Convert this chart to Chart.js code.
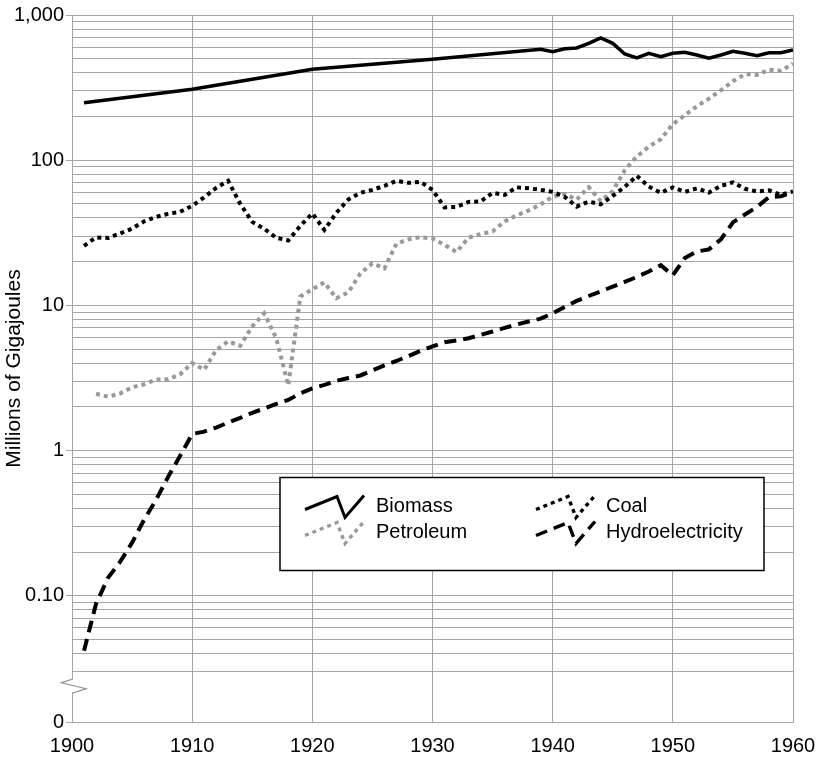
<!DOCTYPE html>
<html lang="en">
<head>
  <meta charset="UTF-8">
  <title>Energy Consumption 1900-1960</title>
  <script src="https://cdn.jsdelivr.net/npm/chart.js"></script>
  <style>
    html, body { margin: 0; padding: 0; background: #fff; }
    #wrap { width: 820px; height: 759px; }
  </style>
</head>
<body>
  <div id="wrap"><canvas id="energyChart" width="820" height="759"></canvas></div>

  <script>
    // annual series, 1901-1960 (millions of gigajoules)
    const years = [
      1901, 1902, 1903, 1904, 1905, 1906, 1907, 1908, 1909, 1910,
      1911, 1912, 1913, 1914, 1915, 1916, 1917, 1918, 1919, 1920,
      1921, 1922, 1923, 1924, 1925, 1926, 1927, 1928, 1929, 1930,
      1931, 1932, 1933, 1934, 1935, 1936, 1937, 1938, 1939, 1940,
      1941, 1942, 1943, 1944, 1945, 1946, 1947, 1948, 1949, 1950,
      1951, 1952, 1953, 1954, 1955, 1956, 1957, 1958, 1959, 1960
    ];
    const coal = [
      25.7, 29.4, 29.1, 31.3, 33.8, 37.9, 40.7, 42.7, 44.1, 48.5,
      55.5, 64.5, 72.0, 50.0, 37.6, 33.7, 29.2, 28.0, 35.3, 43.0,
      33.1, 43.4, 53.7, 59.6, 62.5, 66.5, 72.0, 69.8, 71.0, 62.5,
      47.3, 47.7, 51.6, 51.9, 59.6, 57.7, 65.0, 64.0, 62.5, 60.5,
      55.9, 47.9, 51.9, 49.6, 56.8, 65.5, 78.0, 65.8, 59.6, 65.0,
      60.5, 64.0, 59.9, 66.5, 70.4, 63.5, 60.9, 62.0, 57.7, 60.9
    ];
    const petroleum = [
      null, 2.46, 2.35, 2.47, 2.73, 2.86, 3.08, 3.10, 3.35, 4.01,
      3.6, 4.94, 5.65, 5.26, 7.17, 8.81, 5.93, 2.81, 11.5, 12.9,
      14.4, 11.2, 12.3, 16.6, 19.5, 18.0, 26.6, 28.5, 29.5, 28.9,
      26.1, 23.3, 29.3, 31.0, 32.3, 37.9, 41.6, 45.1, 49.6, 56.1,
      58.4, 53.5, 65.2, 52.2, 61.2, 85.3, 106, 124, 139.5, 177,
      204, 235, 265, 303, 350, 391, 387, 420, 413, 463
    ];
    const hydro = [
      0.0418, 0.088, 0.133, 0.171, 0.232, 0.334, 0.458, 0.659, 0.92, 1.30,
      1.35, 1.44, 1.56, 1.68, 1.82, 1.95, 2.10, 2.23, 2.48, 2.68,
      2.83, 3.02, 3.16, 3.29, 3.56, 3.86, 4.14, 4.48, 4.86, 5.21,
      5.57, 5.73, 5.94, 6.26, 6.61, 6.99, 7.39, 7.75, 8.10, 8.81,
      9.76, 10.74, 11.6, 12.5, 13.45, 14.5, 15.7, 17.1, 18.9, 16.1,
      21.2, 23.5, 24.3, 28.5, 37.3, 42.3, 47.6, 55.7, 56.5, 60.2
    ];
    // biomass is only given at a few points before 1939
    const biomassYears = [
      1901, 1910, 1920, 1930, 1939, 1940, 1941, 1942, 1943, 1944, 1945, 1946, 1947,
      1948, 1949, 1950, 1951, 1952, 1953, 1954, 1955, 1956, 1957, 1958, 1959, 1960
    ];
    const biomass = [
      249, 308, 423, 495, 581, 559, 586, 593, 638, 695, 638, 539, 506,
      545, 516, 545, 554, 530, 504, 530, 563, 545, 525, 550, 550, 574
    ];

    const seriesNames = ['Biomass', 'Petroleum', 'Coal', 'Hydroelectricity'];
    const yLabelValues = [0.1, 1, 10, 100, 1000];
    const yLabelText = ['0.10', '1', '10', '100', '1,000'];
    const yFloor = 0.0135;   // bottom of the broken axis, shown as "0"
    const yBreak = 0.0238;   // where the axis break mark sits
    const yTop = 1000;

    const GRID = '#a6a6a6';
    const FONT = "'Liberation Sans', Arial, sans-serif";

    function points(xs, ys) {
      return xs.map((x, i) => ({ x: x, y: ys[i] }));
    }

    function labelIndex(v) {
      return yLabelValues.findIndex(l => Math.abs(l / v - 1) < 1e-6);
    }

    // zigzag legend inside the plot, two columns
    const boxLegend = {
      id: 'boxLegend',
      afterDraw(chart) {
        const ctx = chart.ctx;
        const a = chart.chartArea;
        const left = a.left + 208, top = a.top + 462.5;
        const w = 484, h = 93;
        ctx.save();
        ctx.fillStyle = '#fff';
        ctx.fillRect(left, top, w, h);
        ctx.strokeStyle = '#000';
        ctx.lineWidth = 1.5;
        ctx.strokeRect(left, top, w, h);

        const cols = [{ sym: 25, txt: 96 }, { sym: 256, txt: 326 }];
        const rows = [29, 55];
        chart.data.datasets.forEach((ds, i) => {
          const c = cols[Math.floor(i / 2)];
          const cy = top + rows[i % 2];
          const sx = left + c.sym;
          ctx.save();
          ctx.strokeStyle = ds.borderColor;
          ctx.lineWidth = ds.borderWidth * 0.85;
          ctx.setLineDash(ds.borderDash || []);
          ctx.lineJoin = 'miter';
          ctx.beginPath();
          ctx.moveTo(sx, cy + 3);
          ctx.lineTo(sx + 32, cy - 10);
          ctx.lineTo(sx + 40, cy + 11);
          ctx.lineTo(sx + 59, cy - 11);
          ctx.stroke();
          ctx.restore();

          ctx.fillStyle = '#000';
          ctx.font = '20px ' + FONT;
          ctx.textBaseline = 'middle';
          ctx.textAlign = 'left';
          ctx.fillText(ds.label, left + c.txt, cy);
        });
        ctx.restore();
      }
    };

    // break mark on the y axis between 0 and 0.03
    const axisBreak = {
      id: 'axisBreak',
      afterDraw(chart) {
        const ctx = chart.ctx;
        const ys = chart.scales.y;
        const x = ys.right;
        const y = ys.getPixelForValue(yBreak);
        ctx.save();
        ctx.fillStyle = '#fff';
        ctx.fillRect(x - 2, y - 6.5, 4, 13);
        ctx.strokeStyle = '#8c8c8c';
        ctx.lineWidth = 1.2;
        ctx.beginPath();
        ctx.moveTo(x, y - 7);
        ctx.lineTo(x - 10.5, y - 3.5);
        ctx.lineTo(x + 14, y + 2.5);
        ctx.lineTo(x, y + 7);
        ctx.stroke();
        ctx.restore();
      }
    };

    Chart.defaults.font.family = FONT;
    Chart.defaults.color = '#000';

    new Chart(document.getElementById('energyChart'), {
      type: 'line',
      data: {
        datasets: [
          {
            label: seriesNames[0],
            data: points(biomassYears, biomass),
            borderColor: '#000',
            borderWidth: 3.5,
            order: 1
          },
          {
            label: seriesNames[1],
            data: points(years, petroleum),
            borderColor: '#999999',
            borderWidth: 4,
            borderDash: [4, 4],
            order: 4
          },
          {
            label: seriesNames[2],
            data: points(years, coal),
            borderColor: '#000',
            borderWidth: 4,
            borderDash: [4, 4],
            order: 3
          },
          {
            label: seriesNames[3],
            data: points(years, hydro),
            borderColor: '#000',
            borderWidth: 4,
            borderDash: [12, 7],
            order: 2
          }
        ]
      },
      options: {
        responsive: false,
        animation: false,
        layout: { padding: { top: 15, right: 27, left: 0, bottom: 0 } },
        elements: {
          point: { radius: 0 },
          line: { tension: 0, borderCapStyle: 'butt', borderJoinStyle: 'miter', fill: false }
        },
        plugins: {
          legend: { display: false },
          tooltip: { enabled: false }
        },
        scales: {
          x: {
            type: 'linear',
            min: 1900,
            max: 1960,
            ticks: {
              stepSize: 10,
              padding: 12,
              font: { size: 20 },
              color: '#000',
              callback: v => String(v)
            },
            grid: { color: GRID, lineWidth: 1, drawTicks: false },
            border: { color: GRID, width: 1 },
            afterFit: s => {
              s.height = 37;
              s.paddingLeft = 0;
              s.paddingRight = 0;
            }
          },
          y: {
            type: 'logarithmic',
            min: yFloor,
            max: yTop,
            bounds: 'data',
            afterBuildTicks: s => {
              const vals = [yFloor];
              for (let d = 0.01; d < yTop * 0.5; d *= 10) {
                for (let m = 1; m < 10; m++) {
                  const v = +(m * d).toPrecision(3);
                  if (v > 0.025) vals.push(v);
                }
              }
              vals.push(yTop);
              s.ticks = vals.map(v => ({ value: v }));
            },
            ticks: {
              autoSkip: false,
              padding: 2,
              font: { size: 20 },
              color: '#000',
              callback: v => {
                if (v === yFloor) return '0';
                const i = labelIndex(v);
                return i >= 0 ? yLabelText[i] : '';
              }
            },
            grid: {
              color: GRID,
              lineWidth: 1,
              tickLength: 6,
              tickColor: c => (c.tick && (c.tick.value === yFloor || labelIndex(c.tick.value) >= 0)) ? GRID : 'rgba(0,0,0,0)'
            },
            border: { color: GRID, width: 1 },
            title: {
              display: true,
              text: 'Millions of Gigajoules',
              font: { size: 21 },
              color: '#000',
              padding: { top: 2, bottom: 0 }
            },
            afterFit: s => {
              s.width = 72;
              s.paddingTop = 0;
              s.paddingBottom = 0;
            }
          }
        }
      },
      plugins: [boxLegend, axisBreak]
    });
  </script>
</body>
</html>
